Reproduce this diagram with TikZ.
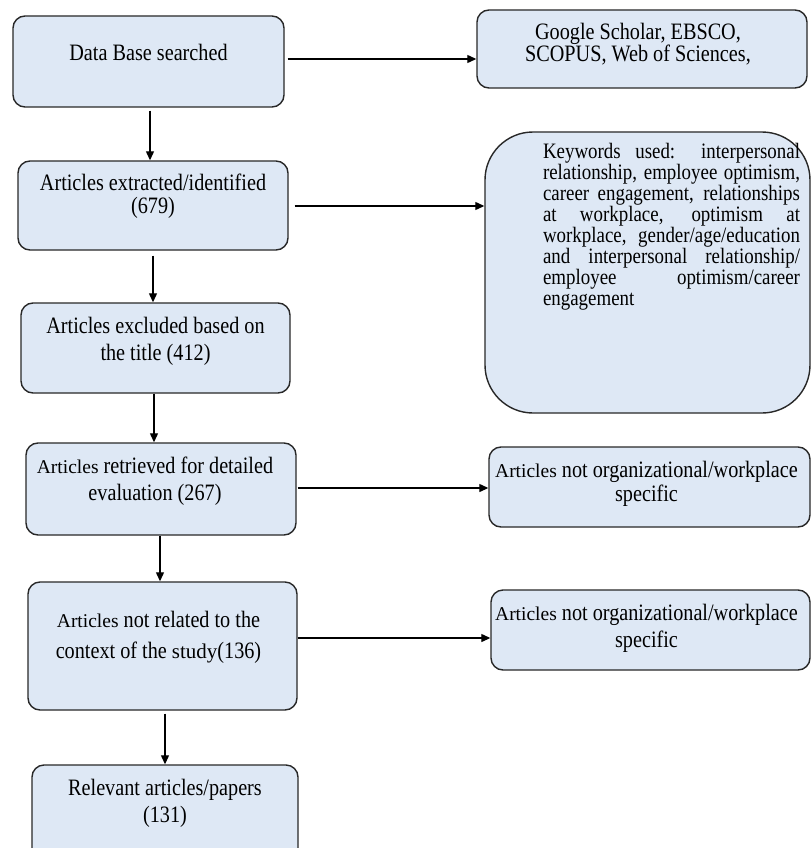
\documentclass[tikz,border=0pt]{standalone}
\usepackage{fontspec}
\setmainfont{Liberation Serif}[FakeStretch=0.86]
\newfontfamily\wideserif{Liberation Serif}
\usetikzlibrary{arrows.meta,calc}
\definecolor{boxfill}{RGB}{222,232,245}
\definecolor{boxline}{RGB}{40,40,40}
% the word "Articles" is set in an unstretched, smaller face in several boxes
\newcommand{\artword}{{\wideserif\fontsize{19.5}{26}\selectfont Articles}}
\newcommand{\studyword}{{\wideserif\fontsize{21}{26}\selectfont study}}
\begin{document}
\begin{tikzpicture}[x=1pt,y=-1pt,
  box/.style={draw=boxline,fill=boxfill,line width=1.4pt,rounded corners=12pt,inner sep=0pt},
  txt/.style={align=center,inner sep=0pt,font=\fontsize{23.5}{#1}\selectfont},
  txt/.default=26,
  arr/.style={line width=1.2pt,draw=black,-{Triangle[length=9pt,width=8pt]}}]
\useasboundingbox (0,0) rectangle (811,848);
\clip (0,0) rectangle (811,848);

% left column
\node[box,minimum width=271pt,minimum height=91pt,
  label={[txt,yshift=9.5pt]center:{Data Base searched}}] (b1) at (148.5,61.5) {};
\node[box,minimum width=270pt,minimum height=89pt,
  label={[txt=23,yshift=9pt]center:{Articles extracted/identified\\(679)}}] (b2) at (153,205.5) {};
\node[box,minimum width=269pt,minimum height=90pt,
  label={[txt=27,yshift=6.5pt]center:{Articles excluded based on\\the title (412)}}] (b3) at (155.5,348) {};
\node[box,minimum width=270pt,minimum height=92pt,
  label={[txt=27,yshift=7.5pt,xshift=-6pt]center:{\artword{} retrieved for detailed\\evaluation (267)}}] (b4) at (161,489) {};
\node[box,minimum width=269pt,minimum height=128pt,
  label={[txt=31,yshift=8.5pt,xshift=-4pt]center:{\artword{} not related to the\\context of the \studyword(136)}}] (b5) at (162.5,646) {};
\node[box,minimum width=266pt,minimum height=100pt,
  label={[txt=27,yshift=11.5pt]center:{Relevant articles/papers\\(131)}}] (b6) at (165,815) {};

% right column
\node[box,minimum width=330pt,minimum height=78pt,
  label={[txt=22,yshift=5pt,xshift=-4pt]center:{Google Scholar, EBSCO,\\SCOPUS, Web of Sciences,}}] (gs) at (642,49) {};
\node[box,rounded corners=48pt,minimum width=325pt,minimum height=281pt] (kw) at (647.5,272.5) {};
\node[align=left,inner sep=0pt,font=\fontsize{22}{21}\selectfont] (kwt) at ($(kw)+(24,-45.5)$) {%
\makebox[257pt][s]{Keywords used: interpersonal}\\
\makebox[257pt][s]{relationship, employee optimism,}\\
\makebox[257pt][s]{career engagement, relationships}\\
\makebox[257pt][s]{at workplace, optimism at}\\
\makebox[257pt][s]{workplace, gender/age/education}\\
\makebox[257pt][s]{and interpersonal relationship/}\\
\makebox[257pt][s]{employee optimism/career}\\
engagement};
\node[box,minimum width=321pt,minimum height=80pt,
  label={[txt=24,yshift=3pt,xshift=-3pt]center:{\artword{} not organizational/workplace\\specific}}] (exA) at (649.5,487) {};
\node[box,minimum width=319pt,minimum height=80pt,
  label={[txt=27,yshift=1.5pt,xshift=-4pt]center:{\artword{} not organizational/workplace\\specific}}] (exB) at (650.5,630) {};

% connectors
\draw[arr] ($(b1.east)+(3,-2.5)$) -- ($(gs.west)+(0,10)$);
\draw[arr] ($(b1.south)+(1.5,3)$) -- ($(b1.south |- b2.north)+(1.5,0)$);
\draw[arr] ($(b2.east)+(6,0.5)$) -- ($(b2.east -| kw.west)+(0,0.5)$);
\draw[arr] ($(b2.south)+(0,5)$) -- (b2.south |- b3.north);
\draw[arr] ($(b3.south)+(-1.5,0)$) -- ($(b3.south |- b4.north)+(-1.5,0)$);
\draw[arr] ($(b4.east)+(1,-1)$) -- ($(b4.east -| exA.west)+(0,-1)$);
\draw[arr] ($(b4.south)+(-1,0)$) -- ($(b4.south |- b5.north)+(-1,0)$);
\draw[arr] ($(b5.east)+(0,-8)$) -- ($(b5.east -| exB.west)+(0,-8)$);
\draw[arr] ($(b5.south)+(2.5,3)$) -- ($(b5.south |- b6.north)+(2.5,0)$);
\end{tikzpicture}
\end{document}
